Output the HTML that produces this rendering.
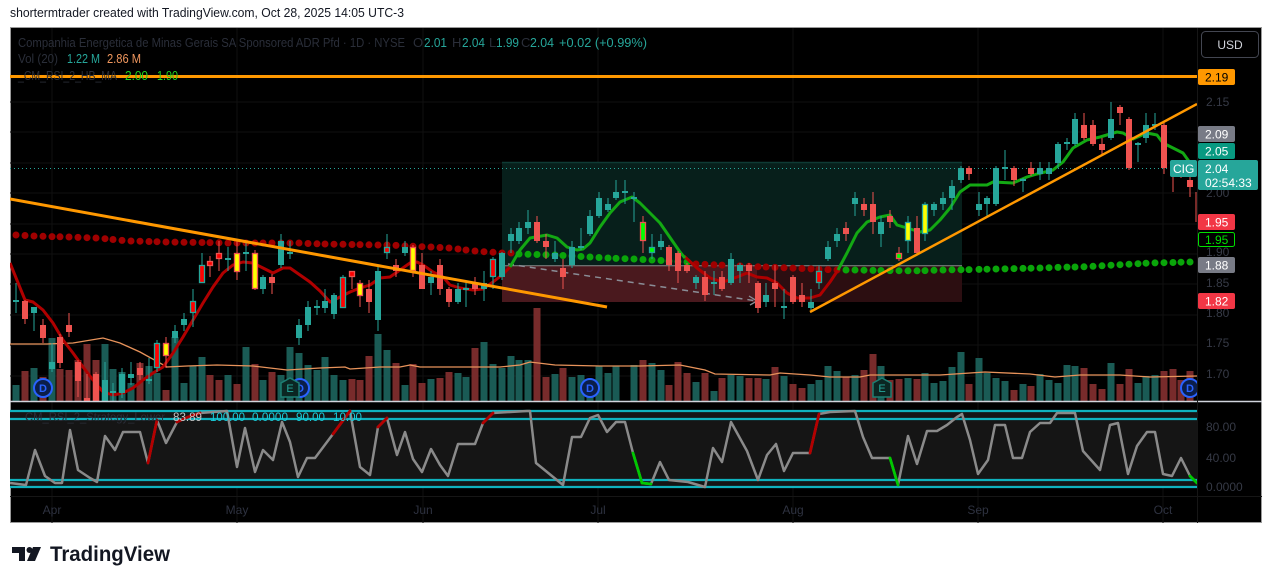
<!DOCTYPE html>
<html><head><meta charset="utf-8">
<style>
html,body{margin:0;padding:0;background:#fff;width:1273px;height:584px;overflow:hidden}
svg{display:block}
text{font-family:"Liberation Sans",sans-serif}
</style></head>
<body>
<svg width="1273" height="584" viewBox="0 0 1273 584" xmlns="http://www.w3.org/2000/svg">
<defs>
<clipPath id="mc"><rect x="10" y="28" width="1187" height="373"/></clipPath>
<clipPath id="rc"><rect x="10" y="402" width="1187" height="94"/></clipPath>
</defs>
<rect width="1273" height="584" fill="#fff"/>
<text x="10" y="17" font-size="13" fill="#131722" textLength="394" lengthAdjust="spacingAndGlyphs">shortermtrader created with TradingView.com, Oct 28, 2025 14:05 UTC-3</text>

<!-- frame -->
<rect x="10.5" y="27.5" width="1251" height="495" fill="#000" stroke="#9a9a9a" stroke-width="1"/>

<!-- grid -->
<g stroke="#101010" stroke-width="1">
<path d="M52 28V523M237 28V523M423 28V523M598 28V523M793 28V523M978 28V523M1163 28V523"/>
<path d="M10 102H1197M10 132H1197M10 163H1197M10 193H1197M10 224H1197M10 254H1197M10 284H1197M10 315H1197M10 345H1197M10 376H1197"/>
</g>

<g clip-path="url(#mc)">
<!-- position box -->
<rect x="502" y="162" width="460" height="104" fill="#071f1b"/>
<line x1="502" y1="162.5" x2="962" y2="162.5" stroke="#0e3a34" stroke-width="1.5"/>
<rect x="502" y="266" width="255" height="36" fill="#4a191e"/>
<rect x="757" y="266" width="205" height="36" fill="#2c0e11"/>
<line x1="502" y1="265.8" x2="962" y2="265.8" stroke="#8a8a8a" stroke-width="1"/>
<path d="M508 264L757 301" stroke="#8a8d96" stroke-width="1.5" stroke-dasharray="6 5" fill="none"/>
<path d="M749 296L757 301L750 305" stroke="#8a8d96" stroke-width="1.3" fill="none"/>

<!-- volume -->
<path stroke="#1a5b55" stroke-width="7" fill="none" d="M16 401V385M34 401V368M52 401V338M105 401V344M113 401V369M122 401V372M131 401V383M149 401V366M157 401V373M175 401V337M184 401V383M193 401V366M202 401V357M228 401V375M246 401V347M263 401V380M281 401V375M290 401V347M299 401V353M308 401V365M317 401V370M325 401V357M334 401V375M343 401V380M378 401V334M387 401V350M405 401V385M431 401V379M458 401V373M466 401V377M484 401V342M493 401V364M502 401V368M511 401V356M519 401V360M528 401V360M555 401V374M572 401V377M581 401V375M590 401V379M599 401V366M608 401V373M616 401V366M634 401V365M652 401V363M661 401V370M696 401V382M714 401V391M731 401V375M740 401V376M766 401V379M784 401V376M811 401V384M819 401V380M828 401V366M837 401V371M855 401V375M881 401V366M908 401V378M925 401V373M934 401V383M943 401V381M952 401V367M961 401V352M979 401V358M987 401V373M996 401V378M1005 401V381M1023 401V384M1040 401V374M1049 401V380M1058 401V383M1067 401V365M1075 401V366M1111 401V363M1138 401V383M1146 401V376M1155 401V375"/>
<path stroke="#782b2b" stroke-width="7" fill="none" d="M25 401V371M43 401V377M60 401V369M69 401V370M78 401V360M87 401V344M96 401V360M140 401V363M166 401V390M210 401V375M219 401V380M237 401V384M255 401V364M272 401V372M352 401V379M360 401V380M369 401V356M396 401V363M413 401V364M422 401V383M440 401V378M449 401V372M475 401V348M537 401V308M546 401V377M563 401V368M643 401V360M669 401V385M678 401V362M687 401V373M705 401V373M722 401V378M749 401V378M758 401V378M775 401V367M793 401V384M802 401V388M846 401V377M864 401V370M873 401V354M890 401V380M899 401V379M917 401V379M969 401V384M1014 401V390M1031 401V386M1084 401V368M1093 401V384M1102 401V389M1120 401V384M1129 401V369M1164 401V371M1173 401V369M1181 401V380M1190 401V371"/>
<polyline fill="none" stroke="#e8935b" stroke-width="1.3" points="10,344 47,344 73,343 103,338 120,343 140,352 167,367 187,366 217,365 253,366 287,370 320,368 345,367 350,369 380,367 400,367 410,365 420,367 500,367 520,365 530,362 555,365 600,366 640,366 680,365 705,370 715,374 770,375 780,373 810,375 830,377 860,377 870,375 940,375 985,372 1030,374 1055,377 1080,375 1120,375 1150,377 1197,376"/>

<!-- current price dotted -->
<line x1="10" y1="168.5" x2="1170" y2="168.5" stroke="#26a69a" stroke-width="1" stroke-dasharray="1 3"/>

<!-- dots -->
<path fill="none" stroke="#a00000" stroke-width="7" stroke-linecap="round" d="M16 235h.01M25 235.5h.01M34 236h.01M43 236.3h.01M52 236.6h.01M60 236.8h.01M69 237h.01M78 237.4h.01M87 237.7h.01M96 238h.01M105 238.7h.01M113 239.5h.01M122 240.4h.01M131 241h.01M140 241.2h.01M149 241.5h.01M157 241.7h.01M166 242h.01M175 242.1h.01M184 242.3h.01M193 242.4h.01M202 242.5h.01M210 242.6h.01M219 242.8h.01M228 243h.01M237 243h.01M246 243h.01M255 243h.01M263 243h.01M272 243h.01M281 243h.01M290 243h.01M299 243h.01M308 243.5h.01M317 243.8h.01M325 244h.01M334 244.2h.01M343 244.3h.01M352 244.5h.01M360 244.6h.01M369 244.8h.01M378 245h.01M387 245h.01M396 245.4h.01M405 245.9h.01M413 246.3h.01M422 246.7h.01M431 247h.01M440 247.5h.01M449 248h.01M458 249h.01M466 250h.01M475 251h.01M484 251.7h.01M493 252.3h.01M502 253h.01M511 253h.01M696 264h.01M705 264.4h.01M714 264.8h.01M722 265.1h.01M731 265.5h.01M740 265.9h.01M749 266.3h.01M758 266.7h.01M766 267h.01M775 267.4h.01M784 267.8h.01M793 268.1h.01M802 268.5h.01M811 268.9h.01M819 269.2h.01M828 269.6h.01M837 270h.01"/>
<path fill="none" stroke="#0aa50a" stroke-width="7" stroke-linecap="round" d="M519 254h.01M528 254.3h.01M537 254.5h.01M546 254.8h.01M555 255h.01M563 255.5h.01M572 256h.01M581 256.5h.01M590 257h.01M599 257.5h.01M608 258h.01M616 258.4h.01M625 258.7h.01M634 259h.01M643 259.5h.01M652 260h.01M661 260.5h.01M669 261h.01M678 261.5h.01M687 262h.01M846 270h.01M855 270h.01M864 270.2h.01M873 270.4h.01M881 270.5h.01M890 270.6h.01M899 270.7h.01M908 270.8h.01M917 270.8h.01M925 270.6h.01M934 270.3h.01M943 270h.01M952 269.8h.01M961 269.7h.01M969 269.6h.01M979 269.4h.01M987 269.2h.01M996 269h.01M1005 268.9h.01M1014 268.6h.01M1023 268.4h.01M1031 268.2h.01M1040 268h.01M1049 267.7h.01M1058 267.4h.01M1067 267.1h.01M1075 267h.01M1084 266.8h.01M1093 266.3h.01M1102 265.8h.01M1111 265.2h.01M1120 264.7h.01M1129 264.2h.01M1138 263.7h.01M1146 263.2h.01M1155 262.9h.01M1164 262.7h.01M1173 262.5h.01M1181 262.2h.01M1190 262h.01"/>

<!-- MA lines -->
<polyline fill="none" stroke="#b00000" stroke-width="3" stroke-linejoin="round" points="10,263 25,300 33,302 43,310 53,323 63,340 73,353 83,367 93,380 103,392 113,395 123,393 133,388 143,380 153,373 163,367 173,353 183,337 193,320 203,303 213,287 223,273 233,265 243,262 253,263 263,268 273,273 283,268 290,268 300,275 310,282 320,291 330,302 340,297 350,292 360,288 370,285 380,278 390,277 400,270 410,263 417,262 423,265 433,272 443,277 450,285 460,288 473,290 483,289 493,282 502,275 510,267"/>
<polyline fill="none" stroke="#b00000" stroke-width="3" stroke-linejoin="round" points="684,256 697,268 710,278 723,282 737,277 747,273 757,277 767,278 777,283 787,293 797,298 810,298 820,295 830,282 838,270"/>
<polyline fill="none" stroke="#13a813" stroke-width="3" stroke-linejoin="round" points="510,267 520,250 530,238 547,235 557,238 567,247 577,250 583,249 590,243 600,227 610,213 620,202 632,197 640,203 660,223 680,252 685,258"/>
<polyline fill="none" stroke="#13a813" stroke-width="3" stroke-linejoin="round" points="838,270 847,253 857,233 867,222 880,217 890,215 897,225 907,228 920,232 930,230 940,220 950,208 960,192 970,185 987,185 993,182 1013,183 1027,177 1037,174 1053,170 1063,162 1073,148 1087,140 1100,137 1117,132 1123,133 1133,139 1147,133 1157,135 1163,143 1173,148 1183,153 1193,167 1198,173"/>

<!-- candles teal -->
<path fill="none" stroke="#26a69a" stroke-width="1" d="M16 283V313M34 307V331M52 343V372M105 362V401M113 383V401M122 368V398M131 362V385M149 358V384M175 325V343M184 313V331M228 247V271M246 241V271M263 275V294M281 234V268M290 241V259M299 319V345M308 301V331M317 300V315M325 289V313M334 293V319M378 265V331M405 241V256M431 271V295M458 283V304M466 283V307M484 271V301M502 252V280M511 228V253M519 222V244M528 210V234M555 241V262M572 241V268M581 228V250M590 210V236M599 192V218M608 198V212M616 180V200M625 180V204M634 192V222M661 234V250M696 275V289M714 271V295M731 253V285M740 263V283M766 283V307M784 289V319M811 289V310M828 241V261M837 228V247M855 192V216M881 216V247M934 202V216M943 192V210M952 180V210M961 166V183M979 192V216M987 196V216M996 166V206M1005 150V180M1023 178V192M1040 162V180M1049 162V180M1058 142V168M1067 138V150M1075 113V146M1111 102V140M1138 142V162M1146 113V143M1155 113V130"/>
<path fill="none" stroke="#26a69a" stroke-width="6" d="M16 300V302M34 307V313M52 362V369M105 380V401M113 391V393M122 374V393M131 374V378M149 379V381M175 331V338M184 319V325M228 258V260M246 252V254M263 277V289M281 241V265M290 252V254M299 325V338M308 307V325M317 306V308M325 301V308M334 295V314M378 271V320M405 247V253M431 277V283M458 289V302M466 288V290M484 283V289M502 253V277M511 234V241M519 228V241M528 222V228M555 253V259M572 247V265M581 246V248M590 216V234M599 198V216M608 204V210M616 192V198M625 191V193M634 197V199M661 241V247M696 277V283M714 282V284M731 259V283M740 265V271M766 295V302M784 306V308M811 302V308M828 247V259M837 234V241M855 198V204M881 222V234M934 204V210M943 198V204M952 186V198M961 168V180M979 204V210M987 198V204M996 168V204M1005 167V169M1023 179V181M1040 168V174M1049 168V174M1058 144V163M1067 142V144M1075 119V144M1111 119V138M1138 143V145M1146 125V138M1155 124V126"/>
<!-- candles red -->
<path fill="none" stroke="#ef5350" stroke-width="1" d="M25 300V324M43 319V343M60 334V368M69 313V337M78 360V397M87 374V401M96 372V401M140 362V380M272 274V294M369 280V313M396 259V277M422 253V289M440 259V295M449 287V307M475 277V295M537 216V243M546 234V259M563 259V289M669 245V271M678 251V283M687 263V273M705 271V301M722 271V291M749 263V283M758 281V313M775 265V307M793 275V304M802 283V307M846 222V241M864 198V216M873 192V234M890 210V228M917 216V255M969 166V180M1014 166V186M1031 162V176M1084 113V140M1093 120V146M1102 138V155M1120 105V125M1129 117V170M1164 123V174M1173 166V192M1181 166V178M1190 170V197M1196 192V222"/>
<path fill="none" stroke="#ef5350" stroke-width="6" d="M25 301V319M43 325V338M60 337V363M69 325V332M78 362V381M87 398V401M96 374V401M140 368V375M272 277V283M369 289V302M396 265V271M422 265V289M440 265V289M449 289V302M475 283V289M537 222V241M546 241V247M563 268V277M669 247V265M678 253V271M687 265V271M705 277V295M722 277V289M749 265V271M758 283V308M775 283V289M793 277V302M802 295V302M846 228V234M864 204V210M873 204V222M890 216V222M917 228V253M969 168V174M1014 168V180M1031 168V174M1084 125V138M1093 125V144M1102 144V150M1120 107V113M1129 119V168M1164 125V168M1173 168V171M1181 170V176M1190 180V187"/>
<!-- special candles -->
<path fill="none" stroke="#26a69a" stroke-width="1" d="M157 340V372M193 289V327M202 253V283M343 275V308M387 234V259M493 257V289M652 234V259M819 265V289M908 216V253M925 202V241"/>
<path fill="none" stroke="#ef5350" stroke-width="1" d="M166 337V368M210 256V277M219 241V271M237 241V280M255 250V290M352 271V289M360 280V307M413 245V277M643 216V253M899 247V261"/>
<g stroke-width="1.3">
<rect x="154.5" y="343.5" width="5" height="24" fill="#ff0000" stroke="#26a69a"/>
<rect x="163.5" y="343.5" width="5" height="12" fill="#ffff00" stroke="#ef5350"/>
<rect x="190.5" y="301.5" width="5" height="11" fill="#ff0000" stroke="#26a69a"/>
<rect x="199.5" y="265.5" width="5" height="17" fill="#ff0000" stroke="#26a69a"/>
<rect x="207.5" y="261.5" width="5" height="4" fill="#ff0000" stroke="#ef5350"/>
<rect x="216.5" y="253.5" width="5" height="5" fill="#ff0000" stroke="#ef5350"/>
<rect x="234.5" y="253.5" width="5" height="18" fill="#ffff00" stroke="#ef5350"/>
<rect x="252.5" y="253.5" width="5" height="35" fill="#ffff00" stroke="#ef5350"/>
<rect x="340.5" y="277.5" width="5" height="30" fill="#ff0000" stroke="#26a69a"/>
<rect x="349.5" y="271.5" width="5" height="5" fill="#ff0000" stroke="#ef5350"/>
<rect x="357.5" y="283.5" width="5" height="12" fill="#ffff00" stroke="#ef5350"/>
<rect x="384.5" y="247.5" width="5" height="5" fill="#ff0000" stroke="#26a69a"/>
<rect x="410.5" y="247.5" width="5" height="23" fill="#ffff00" stroke="#ef5350"/>
<rect x="490.5" y="259.5" width="5" height="17" fill="#ff0000" stroke="#26a69a"/>
<rect x="640.5" y="222.5" width="5" height="18" fill="#00ff00" stroke="#ef5350"/>
<rect x="649.5" y="247.5" width="5" height="5" fill="#00ff00" stroke="#26a69a"/>
<rect x="816.5" y="271.5" width="5" height="11" fill="#ff0000" stroke="#26a69a"/>
<rect x="896.5" y="253.5" width="5" height="5" fill="#00ff00" stroke="#ef5350"/>
<rect x="905.5" y="222.5" width="5" height="18" fill="#ffff00" stroke="#26a69a"/>
<rect x="922.5" y="204.5" width="5" height="29" fill="#ffff00" stroke="#26a69a"/>
</g>

<!-- drawings -->
<line x1="10" y1="76.5" x2="1197" y2="76.5" stroke="#ff9800" stroke-width="3"/>
<line x1="10" y1="199" x2="607" y2="307" stroke="#ff9800" stroke-width="3"/>
<line x1="810" y1="312" x2="1197" y2="104" stroke="#ff9800" stroke-width="2.5"/>

<!-- event icons -->
<g font-size="11" font-weight="bold" text-anchor="middle">
<circle cx="43" cy="388" r="9" fill="#0b1e4a" stroke="#2962ff" stroke-width="2"/><text x="43" y="392" fill="#2962ff">D</text>
<circle cx="300" cy="388" r="9" fill="#0b1e4a" stroke="#2962ff" stroke-width="2"/><text x="300" y="392" fill="#2962ff">D</text>
<polygon points="290,378 299,383 299,397 281,397 281,383" fill="#0b2622" stroke="#1d7e72" stroke-width="1.5"/><text x="290" y="392" fill="#26a69a" font-weight="normal">E</text>
<circle cx="590" cy="388" r="9" fill="#0b1e4a" stroke="#2962ff" stroke-width="2"/><text x="590" y="392" fill="#2962ff">D</text>
<polygon points="882,378 891,383 891,397 873,397 873,383" fill="#0b2622" stroke="#1d7e72" stroke-width="1.5"/><text x="882" y="392" fill="#26a69a" font-weight="normal">E</text>
<circle cx="1190" cy="388" r="9" fill="#0b1e4a" stroke="#2962ff" stroke-width="2"/><text x="1190" y="392" fill="#2962ff">D</text>
</g>
</g>

<!-- legend -->
<g font-size="13">
<text x="18" y="47" fill="#2a2e39" textLength="387" lengthAdjust="spacingAndGlyphs">Companhia Energetica de Minas Gerais SA Sponsored ADR Pfd · 1D · NYSE</text>
<text x="413" y="47" fill="#2a2e39">O</text><text x="424" y="47" fill="#26a69a" textLength="23" lengthAdjust="spacingAndGlyphs">2.01</text>
<text x="452" y="47" fill="#2a2e39">H</text><text x="462" y="47" fill="#26a69a" textLength="23" lengthAdjust="spacingAndGlyphs">2.04</text>
<text x="489" y="47" fill="#2a2e39">L</text><text x="496" y="47" fill="#26a69a" textLength="23" lengthAdjust="spacingAndGlyphs">1.99</text>
<text x="521" y="47" fill="#2a2e39">C</text><text x="530" y="47" fill="#26a69a" textLength="24" lengthAdjust="spacingAndGlyphs">2.04</text>
<text x="559" y="47" fill="#26a69a" textLength="88" lengthAdjust="spacingAndGlyphs">+0.02 (+0.99%)</text>
<text x="18" y="63" fill="#2a2e39" textLength="40" lengthAdjust="spacingAndGlyphs">Vol (20)</text>
<text x="67" y="63" fill="#26a69a" textLength="33" lengthAdjust="spacingAndGlyphs">1.22 M</text>
<text x="107" y="63" fill="#f0975e" textLength="34" lengthAdjust="spacingAndGlyphs">2.86 M</text>
<text x="18" y="80" fill="#2a2e39" textLength="99" lengthAdjust="spacingAndGlyphs">_CM_RSI_2_HB_MA</text>
<text x="125" y="80" fill="#1fd41f" textLength="23" lengthAdjust="spacingAndGlyphs">2.00</text>
<text x="157" y="80" fill="#1fd41f" textLength="21" lengthAdjust="spacingAndGlyphs">1.90</text>
</g>

<!-- pane separator -->
<line x1="10" y1="401.5" x2="1262" y2="401.5" stroke="#d1d4dc" stroke-width="1.5"/>

<!-- RSI pane -->
<rect x="10" y="411" width="1187" height="76" fill="#151515"/>
<g clip-path="url(#rc)">
<g stroke="#0fb1bd" stroke-width="2.2">
<line x1="10" y1="411" x2="1197" y2="411"/><line x1="10" y1="419" x2="1197" y2="419"/>
<line x1="10" y1="480" x2="1197" y2="480"/><line x1="10" y1="487" x2="1197" y2="487"/>
</g>
<polyline fill="none" stroke="#8a8a8a" stroke-width="2.5" stroke-linejoin="round" points="10,483 26,485 35,450 45,476 55,483 62,483 70,430 78,470 90,478 97,482 105,436 115,450 123,432 140,432 148,463 157,420 166,443 177,422 188,417 200,413 227,411 237,467 245,428 255,472 263,450 273,460 282,422 290,442 298,477 307,458 315,458 333,434 350,411 360,467 370,475 378,427 387,418 397,455 405,432 413,459 422,472 431,449 440,465 448,476 458,444 475,444 483,423 493,413 527,411 530,411 536,463 563,485 572,437 581,437 590,418 598,415 607,432 616,422 625,422 633,453 642,483 651,484 660,462 669,480 688,482 705,487 713,448 722,462 731,422 747,451 758,480 767,455 776,444 784,471 793,453 810,453 819,414 830,412 855,411 863,437 872,458 890,458 898,485 908,436 917,464 927,431 937,431 947,425 957,417 962,414 970,440 978,474 988,460 995,425 1005,425 1013,458 1022,458 1030,432 1040,423 1050,423 1057,413 1075,413 1083,451 1100,470 1110,425 1118,423 1128,474 1137,446 1147,432 1155,432 1163,474 1172,476 1181,458 1190,476 1197,483"/>
<path fill="none" stroke="#b30000" stroke-width="2.8" stroke-linecap="round" d="M148 463L157 420M177 422L188 417L200 413M333 434L350 411M378 427L387 418M483 423L493 413M810 453L819 414"/>
<path fill="none" stroke="#00c800" stroke-width="2.8" stroke-linecap="round" d="M633 453L642 483L651 484M890 458L898 485M1190 476L1197 483"/>
</g>
<g font-size="12">
<text x="25" y="421" fill="#2a2e39" textLength="140" lengthAdjust="spacingAndGlyphs">CM_RSI_2_Strategy_Lower</text>
<text x="173" y="421" fill="#c4c4c4" textLength="29" lengthAdjust="spacingAndGlyphs">83.89</text>
<text x="210" y="421" fill="#19cbd8" textLength="35" lengthAdjust="spacingAndGlyphs">100.00</text>
<text x="252" y="421" fill="#19cbd8" textLength="36" lengthAdjust="spacingAndGlyphs">0.0000</text>
<text x="296" y="421" fill="#19cbd8" textLength="29" lengthAdjust="spacingAndGlyphs">90.00</text>
<text x="333" y="421" fill="#19cbd8" textLength="29" lengthAdjust="spacingAndGlyphs">10.00</text>
</g>

<!-- axes separators -->
<line x1="10" y1="496.5" x2="1262" y2="496.5" stroke="#161616"/>
<line x1="1197.5" y1="28" x2="1197.5" y2="523" stroke="#161616"/>

<!-- time axis -->
<g font-size="12" fill="#2e3240" text-anchor="middle">
<text x="52" y="514">Apr</text><text x="237" y="514">May</text><text x="423" y="514">Jun</text>
<text x="598" y="514">Jul</text><text x="793" y="514">Aug</text><text x="978" y="514">Sep</text><text x="1163" y="514">Oct</text>
</g>

<!-- price axis ticks -->
<g font-size="12" fill="#363a46">
<text x="1206" y="106">2.15</text><text x="1206" y="197">2.00</text><text x="1206" y="256">1.90</text>
<text x="1206" y="287">1.85</text><text x="1206" y="317">1.80</text><text x="1206" y="347">1.75</text><text x="1206" y="378">1.70</text>
<text x="1206" y="431">80.00</text><text x="1206" y="462">40.00</text><text x="1206" y="491">0.0000</text>
</g>

<!-- USD button -->
<rect x="1201.5" y="31.5" width="57" height="26" rx="4" fill="#000" stroke="#434651"/>
<text x="1230" y="49" font-size="12" fill="#d1d4dc" text-anchor="middle">USD</text>

<!-- price labels -->
<g font-size="12">
<rect x="1198" y="69" width="37" height="16" rx="2" fill="#ff9800"/><text x="1205" y="81.5" fill="#000">2.19</text>
<rect x="1198" y="126" width="37" height="16" rx="2" fill="#787b86"/><text x="1205" y="138.5" fill="#fff">2.09</text>
<rect x="1198" y="143" width="37" height="16" rx="2" fill="#089981"/><text x="1205" y="155.5" fill="#fff">2.05</text>
<rect x="1198" y="160" width="60" height="30" rx="2" fill="#26a69a"/>
<text x="1205" y="173" fill="#fff">2.04</text><text x="1205" y="187" fill="#fff">02:54:33</text>
<rect x="1170" y="160" width="27" height="17" rx="2" fill="#26a69a"/><text x="1173" y="173" fill="#fff">CIG</text>
<rect x="1198" y="214" width="37" height="16" rx="2" fill="#f23645"/><text x="1205" y="226.5" fill="#fff">1.95</text>
<rect x="1198.5" y="232.5" width="36" height="14" rx="2" fill="#000" stroke="#00e000"/><text x="1205" y="244" fill="#00e000">1.95</text>
<rect x="1198" y="257" width="37" height="16" rx="2" fill="#787b86"/><text x="1205" y="269.5" fill="#fff">1.88</text>
<rect x="1198" y="293" width="37" height="16" rx="2" fill="#f23645"/><text x="1205" y="305.5" fill="#fff">1.82</text>
</g>

<!-- TradingView logo -->
<g fill="#131722">
<path d="M12 547H25V561H19V553H12Z"/>
<circle cx="29.5" cy="550" r="3"/>
<path d="M33 547H41L35 561H27Z"/>
<text x="50" y="561" font-size="21" font-weight="bold" textLength="120" lengthAdjust="spacingAndGlyphs">TradingView</text>
</g>
</svg>
</body></html>
